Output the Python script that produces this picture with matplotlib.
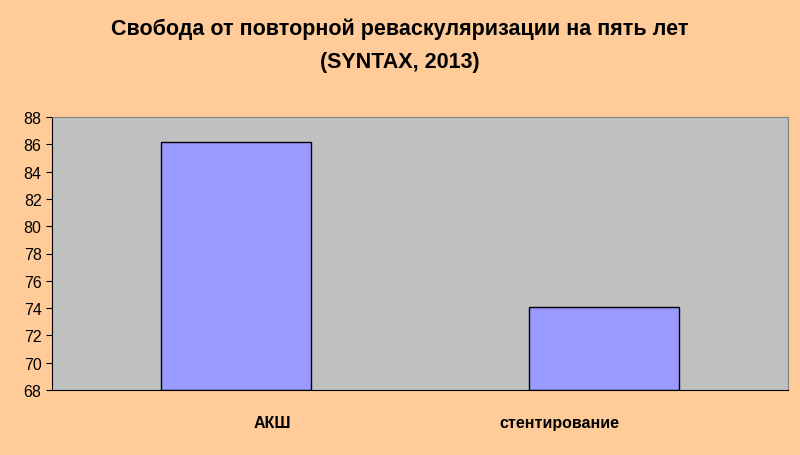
import matplotlib
matplotlib.use("Agg")
import matplotlib.pyplot as plt

# -------- DATA --------
categories = ["АКШ", "стентирование"]
values = [86.2, 74.1]
yticks = list(range(68, 89, 2))
title = "Свобода от повторной реваскуляризации на пять лет\n(SYNTAX, 2013)"

plt.rcParams["font.family"] = ["Liberation Sans", "DejaVu Sans"]

fig = plt.figure(figsize=(8, 4.56), dpi=100, facecolor="#FFCC99")
ax = fig.add_axes([52 / 800, 1 - 391 / 456, 736 / 800, 273 / 456])
ax.set_facecolor("#C0C0C0")

x = list(range(len(categories)))
ax.bar(x, [v - 68 for v in values], bottom=68, width=0.41,
       color="#9999FF", edgecolor="black", linewidth=1)

ax.set_xlim(-0.5, 1.5)
ax.set_ylim(68, 88)
ax.set_yticks(yticks)
ax.set_yticklabels([str(t) for t in yticks], fontsize=11.5)
ax.set_xticks([])
# category labels sit a little off the bar centres in the original
for xi, lab in zip([0.10, 0.88], categories):
    ax.text(xi, -0.12, lab, transform=ax.get_xaxis_transform(),
            ha="center", va="center", fontsize=11.5, fontweight="bold")
ax.tick_params(axis="y", length=4, direction="out")
for s in ax.spines.values():
    s.set_color("#808080")
ax.spines["left"].set_color("black")
ax.spines["bottom"].set_color("black")

fig.text(0.5, 0.9, title, ha="center", va="center",
         fontsize=15.5, fontweight="bold", linespacing=1.75)

fig.savefig("out.png", dpi=100, facecolor=fig.get_facecolor())
